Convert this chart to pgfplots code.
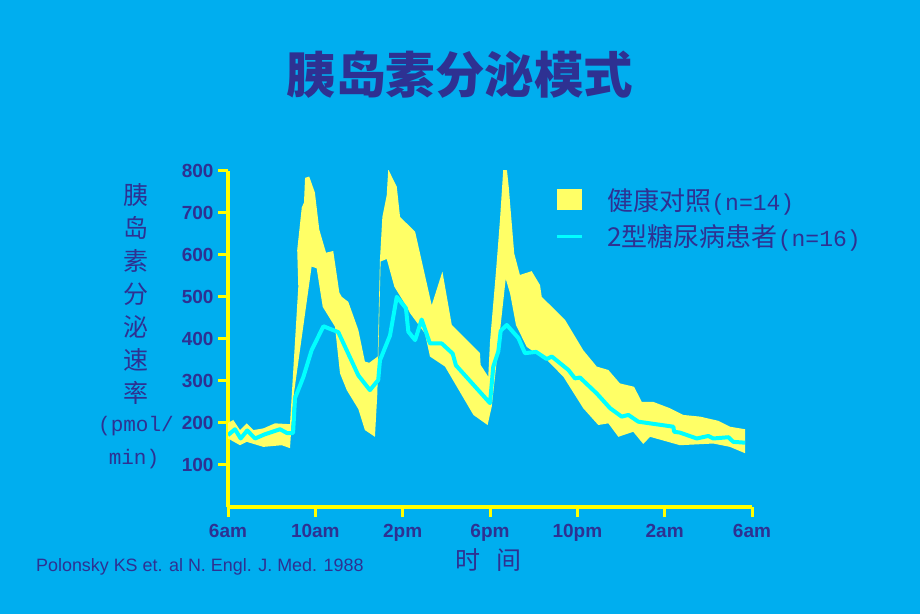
\documentclass[border=0pt]{standalone}
\usepackage{pgfplots}
\pgfplotsset{compat=1.18}
\usepackage{fontspec}
\setmainfont{Liberation Sans}
\newfontfamily\cjk{Noto Sans CJK SC}
\newfontfamily\mono{Liberation Mono}
\definecolor{bg}{HTML}{00AEEF}
\definecolor{band}{HTML}{FFFF66}
\definecolor{axy}{HTML}{FFFF00}
\definecolor{lin}{HTML}{00FFFF}
\definecolor{txt}{HTML}{2E3192}
\begin{document}
\begin{tikzpicture}
\fill[bg] (0pt,0pt) rectangle (920pt,614pt);
\useasboundingbox (0pt,0pt) rectangle (920pt,614pt);
% title
\node[text=txt, font=\cjk\bfseries\fontsize{49.5}{49.5}\selectfont] at (460pt,539pt) {胰岛素分泌模式};
% y label
\begin{scope}[every node/.style={text=txt, font=\cjk\fontsize{25}{25}\selectfont}]
\node at (136pt,419pt) {胰};
\node at (136pt,386pt) {岛};
\node at (136pt,353pt) {素};
\node at (136pt,320pt) {分};
\node at (136pt,287pt) {泌};
\node at (136pt,254pt) {速};
\node at (136pt,221pt) {率};
\node[font=\mono\fontsize{21}{21}\selectfont] at (136pt,188pt) {(pmol/};
\node[font=\mono\fontsize{21}{21}\selectfont] at (134pt,155pt) {min)};
\node at (488pt,54pt) {时\hspace{16pt}间};
\end{scope}
\node[anchor=west, text=txt, font=\fontsize{17.9}{17.9}\selectfont, inner sep=0pt] at (36pt,47pt) {Polonsky KS et. al N. Engl. J. Med. 1988};
\begin{axis}[
  at={(228pt,107pt)}, anchor=south west,
  scale only axis, width=524pt, height=336.3pt,
  xmin=6, xmax=30, ymin=0, ymax=800,
  axis x line=bottom, axis y line=left,
  axis line style={-, axy, line width=3.5pt},
  xtick={6,10,14,18,22,26,30},
  xticklabels={6am,10am,2pm,6pm,10pm,2am,6am},
  ytick={100,200,300,400,500,600,700,800},
  tick align=outside, major tick length=10pt,
  tick style={axy, line width=3pt},
  /pgf/number format/assume math mode=true,
  ticklabel style={text=txt, font=\bfseries\fontsize{19}{19}\selectfont},
  xticklabel style={yshift=-4pt},
  yticklabel style={xshift=-1pt},
  legend style={at={(rel axis cs:0.6245,0.955)}, anchor=north west, draw=none, fill=none,
     inner sep=0pt, row sep=9pt, column sep=0pt,
     font=\cjk\fontsize{26}{26}\selectfont, text=txt},
  legend cell align=left,
]
\addplot[fill=band, draw=none, area legend,
  legend image code/.code={\fill[band] (0pt,-10.5pt) rectangle (25pt,10.5pt);}]
coordinates {
(6.00,200) (6.24,207) (6.55,183) (6.86,199) (7.16,183) (7.62,187) (8.15,199) (8.84,197)
(9.22,524) (9.17,611) (9.38,713) (9.48,724) (9.53,783) (9.72,786) (9.98,748) (10.18,660)
(10.49,605) (10.82,609) (11.10,510) (11.21,500) (11.51,488) (11.97,421) (12.27,346) (12.47,343)
(12.86,358) (12.96,588) (13.07,690) (13.27,742) (13.34,803) (13.73,762) (13.88,690) (14.57,655)
(15.33,480) (15.82,560) (16.25,433) (17.54,366) (17.57,338) (17.92,310) (18.00,393) (18.28,564)
(18.46,685) (18.62,813) (18.78,800) (18.86,760) (19.11,603) (19.37,552) (19.91,561) (20.29,528) (20.37,500)
(21.44,445) (22.27,373) (22.89,334) (23.42,326) (23.95,294) (24.60,286) (24.95,250) (25.48,250)
(26.24,235) (26.85,219) (27.62,215) (28.46,205) (28.99,191) (29.68,185)
(29.68,128) (28.99,143) (28.23,151) (26.70,147) (25.33,167) (25.02,150) (24.56,179) (23.88,167)
(23.42,199) (22.96,195) (22.27,235) (21.36,310) (20.60,350) (20.21,362) (19.68,381) (19.19,433)
(18.92,508) (18.72,543) (18.08,239) (17.89,195) (17.24,219) (15.94,334) (15.25,358) (15.02,413)
(14.34,461) (14.19,476) (13.62,524) (13.27,590) (12.99,584) (12.84,270) (12.73,167) (12.27,183)
(11.97,233) (11.44,278) (11.13,318) (10.90,429) (10.34,476) (10.06,568) (9.83,572) (8.99,259)
(8.84,140) (8.46,147) (7.62,143) (6.86,155) (6.55,147) (6.00,163)
} -- cycle;
\addlegendentry{\hspace{22pt}健康对照{\mono\fontsize{23}{23}\selectfont(n=14)}}
\addplot[lin, line width=4pt, line join=round,
  legend image code/.code={\draw[lin, line width=3pt] (0pt,0pt) -- (25pt,0pt);}]
coordinates {
(6.00,171) (6.32,185) (6.58,163) (6.88,182) (7.24,163) (7.69,173) (8.38,185) (8.70,176)
(8.98,176) (9.07,259) (9.45,309) (9.83,373) (10.37,430) (11.05,416) (11.97,313) (12.50,278)
(12.88,302) (12.96,349) (13.42,408) (13.73,500) (14.15,473) (14.26,417) (14.57,397) (14.87,446)
(15.25,389) (15.79,389) (16.29,365) (16.44,337) (18.00,247) (18.15,334) (18.38,370) (18.49,419)
(18.77,433) (19.30,402) (19.60,366) (20.11,369) (20.60,352) (20.83,358) (21.59,326) (21.89,306)
(22.12,308) (22.89,270) (23.50,235) (24.03,215) (24.34,219) (24.79,203) (26.40,191) (26.43,179)
(26.70,177) (27.47,163) (28.00,169) (28.23,163) (28.92,166) (29.14,155) (29.68,153)
};
\addlegendentry{\hspace{22pt}2型糖尿病患者{\mono\fontsize{23}{23}\selectfont(n=16)}}
\end{axis}
\end{tikzpicture}
\end{document}
